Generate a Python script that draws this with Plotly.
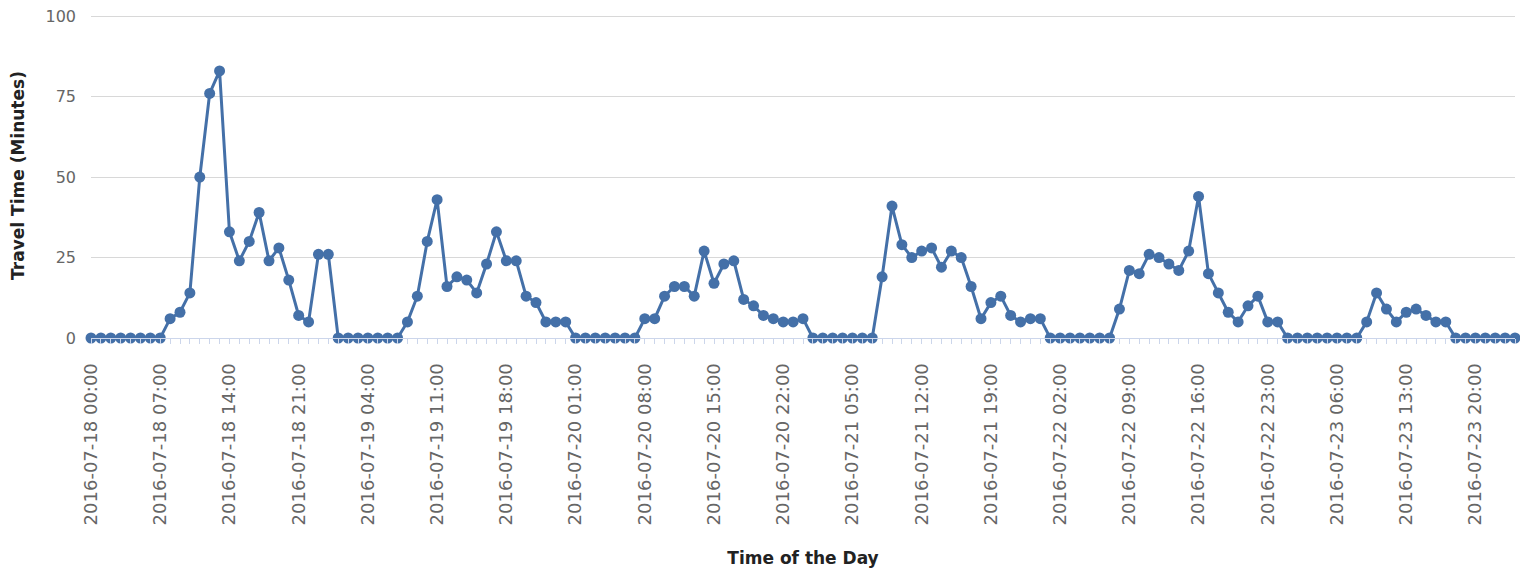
import pandas as pd
import plotly.graph_objects as go

# hourly readings, 2016-07-18 00:00 .. 2016-07-24 00:00
START = "2016-07-18 00:00"
END = "2016-07-24 00:00"

travel_minutes = [
    # 07-18
    0, 0, 0, 0, 0, 0, 0, 0, 6, 8, 14, 50, 76, 83, 33, 24, 30, 39, 24, 28, 18, 7, 5, 26,
    # 07-19
    26, 0, 0, 0, 0, 0, 0, 0, 5, 13, 30, 43, 16, 19, 18, 14, 23, 33, 24, 24, 13, 11, 5, 5,
    # 07-20
    5, 0, 0, 0, 0, 0, 0, 0, 6, 6, 13, 16, 16, 13, 27, 17, 23, 24, 12, 10, 7, 6, 5, 5,
    # 07-21
    6, 0, 0, 0, 0, 0, 0, 0, 19, 41, 29, 25, 27, 28, 22, 27, 25, 16, 6, 11, 13, 7, 5, 6,
    # 07-22
    6, 0, 0, 0, 0, 0, 0, 0, 9, 21, 20, 26, 25, 23, 21, 27, 44, 20, 14, 8, 5, 10, 13, 5,
    # 07-23
    5, 0, 0, 0, 0, 0, 0, 0, 0, 5, 14, 9, 5, 8, 9, 7, 5, 5, 0, 0, 0, 0, 0, 0,
    # 07-24
    0,
]

hours = pd.date_range(START, END, freq="h")

LINE_COLOR = "#4470A8"
FONT = "DejaVu Sans"
HOUR_MS = 3600000

fig = go.Figure(
    go.Scatter(
        x=hours,
        y=travel_minutes,
        mode="lines+markers",
        line=dict(color=LINE_COLOR, width=3),
        marker=dict(color=LINE_COLOR, size=11),
        cliponaxis=False,
        hovertemplate="%{x|%Y-%m-%d %H:%M}: %{y}<extra></extra>",
    )
)

fig.update_layout(
    width=1520,
    height=568,
    margin=dict(l=91, r=5, t=13, b=230),
    paper_bgcolor="white",
    plot_bgcolor="white",
    showlegend=False,
    font=dict(family=FONT, color="#666666"),
    xaxis=dict(
        range=[hours[0], hours[-1]],
        tick0=START,
        dtick=7 * HOUR_MS,
        tickformat="%Y-%m-%d %H:%M",
        tickangle=-90,
        tickfont=dict(size=18, color="#666666"),
        ticks="outside",
        ticklen=5,
        tickcolor="#ccd6eb",
        minor=dict(dtick=HOUR_MS, ticks="outside", ticklen=5, tickcolor="#ccd6eb"),
        ticklabelstandoff=12,
        showline=True,
        linecolor="#ccd6eb",
        linewidth=1,
        showgrid=False,
        zeroline=False,
        automargin=False,
        title=dict(
            text="Time of the Day",
            font=dict(size=17, color="#222222", family=FONT, weight="bold"),
            standoff=29,
        ),
    ),
    yaxis=dict(
        # a little headroom above 100 so the top gridline is not dropped at the edge
        range=[0, 101],
        tickvals=[0, 25, 50, 75, 100],
        tickfont=dict(size=16, color="#666666"),
        showgrid=True,
        gridcolor="#d8d8d8",
        gridwidth=1,
        zeroline=False,
        ticks="",
        ticklabelstandoff=14,
        automargin=False,
        title=dict(
            text="Travel Time (Minutes)",
            font=dict(size=17, color="#222222", family=FONT, weight="bold"),
            standoff=16,
        ),
    ),
)

# drop the browser's default body margin so the figure fills the window
fig.write_html(
    "out.html",
    config={"displayModeBar": False},
    post_script="document.body.style.margin = '0';",
)
